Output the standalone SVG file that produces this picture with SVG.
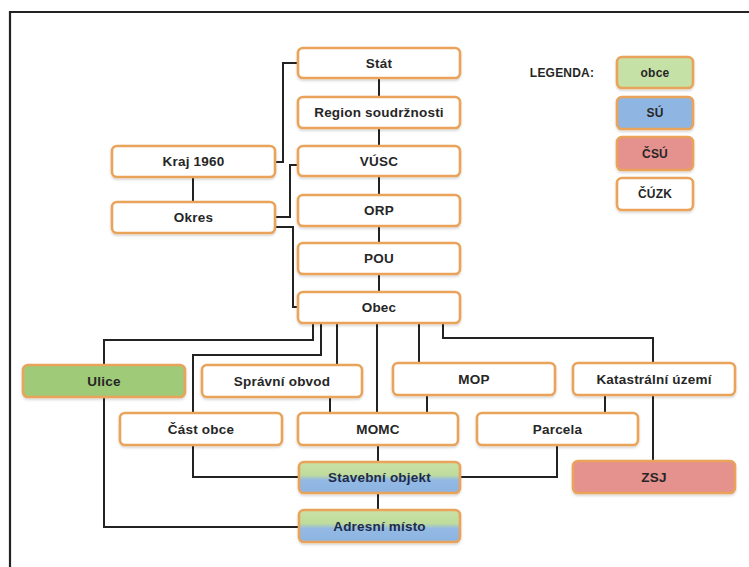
<svg xmlns="http://www.w3.org/2000/svg" width="749" height="567" viewBox="0 0 749 567">
<defs>
<linearGradient id="gb" x1="0" y1="0" x2="0" y2="1">
<stop offset="0" stop-color="#C9E2A6"/>
<stop offset="0.42" stop-color="#BFDC9C"/>
<stop offset="0.58" stop-color="#93B9E4"/>
<stop offset="1" stop-color="#8DB4E2"/>
</linearGradient>
<filter id="sh" x="-10%" y="-20%" width="120%" height="150%">
<feDropShadow dx="0" dy="1.5" stdDeviation="1.2" flood-color="#000" flood-opacity="0.18"/>
</filter>
</defs>
<style>
.b{fill:#fff;stroke:#E9A35A;stroke-width:2.6;filter:url(#sh)}
.g{fill:#9FCB78}
.lg{fill:#C6E1A6}
.bl{fill:#8FB5E2}
.rd{fill:#E5918E}
.gr{fill:url(#gb)}
.t{font-family:"Liberation Sans",Arial,sans-serif;font-weight:bold;font-size:13.5px;letter-spacing:0.2px;fill:#262626;text-anchor:middle;dominant-baseline:central}
.s{font-size:12px}
.tn{fill:#1E2B4A}
.c{fill:none;stroke:#222;stroke-width:2}
</style>
<rect width="749" height="567" fill="#fff"/>
<path d="M10,567 V12 H749" fill="none" stroke="#222" stroke-width="2.2"/>
<g id="connectors">
<path class="c" d="M298,63 H283 V162 H275"/>
<path class="c" d="M379,78 V97"/>
<path class="c" d="M379,128 V146"/>
<path class="c" d="M379,176 V195"/>
<path class="c" d="M379,226 V243"/>
<path class="c" d="M379,274 V292"/>
<path class="c" d="M193,177 V202"/>
<path class="c" d="M298,165 H290 V217 H275"/>
<path class="c" d="M275,227 H293 V307 H298"/>
<path class="c" d="M313,323 V340 H104 V365"/>
<path class="c" d="M321,323 V355 H193 V413"/>
<path class="c" d="M337,323 V365"/>
<path class="c" d="M377,323 V413"/>
<path class="c" d="M419,323 V363"/>
<path class="c" d="M443,323 V338 H653 V363"/>
<path class="c" d="M330,397 V413"/>
<path class="c" d="M427,395 V413"/>
<path class="c" d="M605,395 V413"/>
<path class="c" d="M653,395 V461"/>
<path class="c" d="M193,445 V477 H299"/>
<path class="c" d="M378,445 V462"/>
<path class="c" d="M557,445 V477 H460"/>
<path class="c" d="M378,493 V510"/>
<path class="c" d="M104,397 V527 H299"/>
</g>
<g id="stat"><rect class="b" x="298" y="48" width="162" height="30" rx="5"/><text class="t" x="379" y="63">Stát</text></g>
<g id="region"><rect class="b" x="298" y="97" width="162" height="31" rx="5"/><text class="t" x="379" y="112.5">Region soudržnosti</text></g>
<g id="vusc"><rect class="b" x="298" y="146" width="162" height="30" rx="5"/><text class="t" x="379" y="161">VÚSC</text></g>
<g id="orp"><rect class="b" x="298" y="195" width="162" height="31" rx="5"/><text class="t" x="379" y="210.5">ORP</text></g>
<g id="pou"><rect class="b" x="298" y="243" width="162" height="31" rx="5"/><text class="t" x="379" y="258.5">POU</text></g>
<g id="obec"><rect class="b" x="298" y="292" width="162" height="31" rx="5"/><text class="t" x="379" y="307.5">Obec</text></g>
<g id="kraj"><rect class="b" x="112" y="146" width="163" height="31" rx="5"/><text class="t" x="193.5" y="161.5">Kraj 1960</text></g>
<g id="okres"><rect class="b" x="112" y="202" width="163" height="31" rx="5"/><text class="t" x="193.5" y="217.5">Okres</text></g>
<g id="ulice"><rect class="b g" x="23" y="365" width="162" height="32" rx="5"/><text class="t" x="104" y="381">Ulice</text></g>
<g id="spravni"><rect class="b" x="202" y="365" width="160" height="32" rx="5"/><text class="t" x="282" y="381">Správní obvod</text></g>
<g id="mop"><rect class="b" x="393" y="363" width="162" height="32" rx="5"/><text class="t" x="474" y="379">MOP</text></g>
<g id="katastr"><rect class="b" x="573" y="363" width="162" height="32" rx="5"/><text class="t" x="654" y="379">Katastrální území</text></g>
<g id="cast"><rect class="b" x="120" y="413" width="162" height="32" rx="5"/><text class="t" x="201" y="429">Část obce</text></g>
<g id="momc"><rect class="b" x="298" y="413" width="160" height="32" rx="5"/><text class="t" x="378" y="429">MOMC</text></g>
<g id="parcela"><rect class="b" x="477" y="413" width="161" height="32" rx="5"/><text class="t" x="557.5" y="429">Parcela</text></g>
<g id="stavebni"><rect class="b gr" x="299" y="462" width="161" height="31" rx="5"/><text class="t tn" x="379.5" y="477.5">Stavební objekt</text></g>
<g id="zsj"><rect class="b rd" x="573" y="461" width="162" height="32" rx="5"/><text class="t" x="654" y="477">ZSJ</text></g>
<g id="adresni"><rect class="b gr" x="299" y="510" width="161" height="32" rx="5"/><text class="t tn" x="379.5" y="526">Adresní místo</text></g>
<g id="legend">
<text class="t s" x="562" y="73">LEGENDA:</text>
<g id="leg-obce"><rect class="b lg" x="617" y="57" width="76" height="31" rx="5"/><text class="t s" x="655" y="72.5">obce</text></g>
<g id="leg-su"><rect class="b bl" x="617" y="97" width="76" height="32" rx="5"/><text class="t s" x="655" y="113">SÚ</text></g>
<g id="leg-csu"><rect class="b rd" x="617" y="137" width="76" height="33" rx="5"/><text class="t s" x="655" y="153.5">ČSÚ</text></g>
<g id="leg-cuzk"><rect class="b" x="617" y="178" width="76" height="32" rx="5"/><text class="t s" x="655" y="194">ČÚZK</text></g>
</g>
</svg>
